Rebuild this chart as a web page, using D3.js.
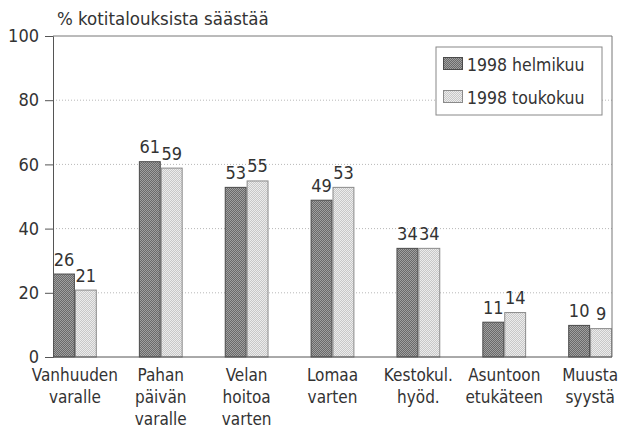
<!DOCTYPE html>
<html>
<head>
<meta charset="utf-8">
<script src="https://cdn.jsdelivr.net/npm/d3@7"></script>
<style>
  body { margin: 0; background: #fff; }
  text { font-family: "Liberation Sans Narrow", "DejaVu Sans Condensed", "Roboto Condensed", sans-serif; fill: #333; }
</style>
</head>
<body>
<div class="canvas"></div>
<script>
const categories = [
  ["Vanhuuden", "varalle"],
  ["Pahan", "päivän", "varalle"],
  ["Velan", "hoitoa", "varten"],
  ["Lomaa", "varten"],
  ["Kestokul.", "hyöd."],
  ["Asuntoon", "etukäteen"],
  ["Muusta", "syystä"]
];
const seriesNames = ["1998 helmikuu", "1998 toukokuu"];
const helmikuu = [26, 61, 53, 49, 34, 11, 10];
const toukokuu = [21, 59, 55, 53, 34, 14, 9];
const yTicks = [0, 20, 40, 60, 80, 100];

const margin = { top: 36, right: 10, bottom: 75, left: 53 };
const width = 622;
const height = 432;
const graphWidth = width - margin.left - margin.right;
const graphHeight = height - margin.top - margin.bottom;

const strokes = ["#4a4a4a", "#8a8a8a"];

const svg = d3.select(".canvas")
  .append("svg")
  .attr("width", width)
  .attr("height", height);

// halftone-like fills
const defs = svg.append("defs");
const patterns = [
  { id: "dark", base: "#a0a0a0", dot: "#6a6a6a" },
  { id: "light", base: "#ececec", dot: "#c8c8c8" }
];
patterns.forEach(p => {
  const pat = defs.append("pattern")
    .attr("id", p.id)
    .attr("width", 2)
    .attr("height", 2)
    .attr("patternUnits", "userSpaceOnUse");
  pat.append("rect").attr("width", 2).attr("height", 2).attr("fill", p.base);
  pat.append("rect").attr("width", 1).attr("height", 1).attr("fill", p.dot);
  pat.append("rect").attr("x", 1).attr("y", 1).attr("width", 1).attr("height", 1).attr("fill", p.dot);
});
const fills = ["url(#dark)", "url(#light)"];

const graph = svg.append("g")
  .attr("transform", `translate(${margin.left},${margin.top})`);

const x = d3.scaleBand()
  .domain(d3.range(categories.length))
  .range([0, graphWidth])
  .paddingInner(0.49)
  .paddingOuter(0);

const xSub = d3.scaleBand()
  .domain([0, 1])
  .range([0, x.bandwidth()]);

const y = d3.scaleLinear().domain([0, 100]).range([graphHeight, 0]);

// dotted gridlines
graph.append("g")
  .selectAll("line")
  .data(yTicks.filter(d => d > 0 && d < 100))
  .join("line")
  .attr("x1", 0)
  .attr("x2", graphWidth)
  .attr("y1", d => y(d))
  .attr("y2", d => y(d))
  .attr("stroke", "#b8b8b8")
  .attr("stroke-width", 1)
  .attr("stroke-dasharray", "1,2");

// bars
const data = [helmikuu, toukokuu];
data.forEach((values, s) => {
  graph.append("g")
    .selectAll("rect")
    .data(values)
    .join("rect")
    .attr("x", (d, i) => x(i) + xSub(s) + 0.5)
    .attr("y", d => y(d) + 0.5)
    .attr("width", xSub.bandwidth() - 1)
    .attr("height", d => graphHeight - y(d) - 0.5)
    .attr("fill", fills[s])
    .attr("stroke", strokes[s])
    .attr("stroke-width", 1);

  graph.append("g")
    .selectAll("text")
    .data(values)
    .join("text")
    .attr("x", (d, i) => x(i) + xSub(s) + xSub.bandwidth() / 2)
    .attr("y", d => y(d) - 8)
    .attr("text-anchor", "middle")
    .attr("font-size", 18)
    .text(d => d);
});

// y axis
const yAxis = d3.axisLeft(y).tickValues(yTicks).tickSize(8).tickPadding(6);
const yAxisGroup = graph.append("g").call(yAxis);
yAxisGroup.select(".domain").attr("stroke", "#555");
yAxisGroup.selectAll(".tick line").attr("stroke", "#555");
yAxisGroup.selectAll(".tick text")
  .attr("font-size", 18)
  .attr("fill", "#333")
  .style("font-family", "\"Liberation Sans Narrow\", \"DejaVu Sans Condensed\", sans-serif");

// top and right border, x baseline
graph.append("line")
  .attr("x1", 0).attr("x2", graphWidth)
  .attr("y1", 0).attr("y2", 0)
  .attr("stroke", "#777");
graph.append("line")
  .attr("x1", graphWidth).attr("x2", graphWidth)
  .attr("y1", 0).attr("y2", graphHeight)
  .attr("stroke", "#777");
graph.append("line")
  .attr("x1", 0).attr("x2", graphWidth)
  .attr("y1", graphHeight).attr("y2", graphHeight)
  .attr("stroke", "#555");

// category labels
const catGroup = graph.append("g");
categories.forEach((lines, i) => {
  const t = catGroup.append("text")
    .attr("x", x(i) + x.bandwidth() / 2)
    .attr("y", graphHeight + 24)
    .attr("text-anchor", "middle")
    .attr("font-size", 17);
  lines.forEach((l, k) => {
    t.append("tspan")
      .attr("x", x(i) + x.bandwidth() / 2)
      .attr("dy", k === 0 ? 0 : 22)
      .text(l);
  });
});

// title
svg.append("text")
  .attr("x", 57)
  .attr("y", 25)
  .attr("font-size", 18.5)
  .text("% kotitalouksista säästää");

// legend
const legend = svg.append("g").attr("transform", "translate(436,47)");
legend.append("rect")
  .attr("width", 166)
  .attr("height", 68)
  .attr("fill", "#fff")
  .attr("stroke", "#888");
seriesNames.forEach((name, s) => {
  legend.append("rect")
    .attr("x", 7.5)
    .attr("y", 10.5 + s * 33)
    .attr("width", 19)
    .attr("height", 12)
    .attr("fill", fills[s])
    .attr("stroke", strokes[s]);
  legend.append("text")
    .attr("x", 31)
    .attr("y", 24 + s * 33)
    .attr("font-size", 17.5)
    .text(name);
});
</script>
</body>
</html>
